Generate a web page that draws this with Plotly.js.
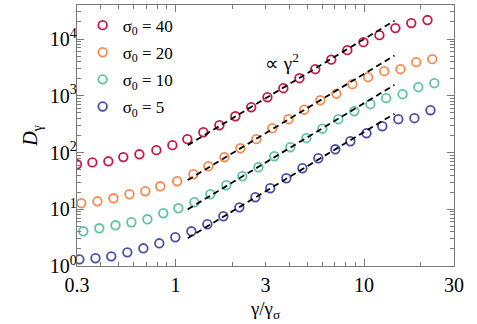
<!DOCTYPE html>
<html>
<head>
<meta charset="utf-8">
<script src="https://cdn.plot.ly/plotly-3.0.1.min.js"></script>
<style>html,body{margin:0;padding:0;background:#fff;}#chart{width:477px;height:324px;}</style>
</head>
<body>
<div id="chart"></div>
<script>
// ---- data ----
const seriesNames = ['σ<sub>0</sub> = 40', 'σ<sub>0</sub> = 20', 'σ<sub>0</sub> = 10', 'σ<sub>0</sub> = 5'];
const seriesColors = ['#c41a48', '#f68a4e', '#5ec5a0', '#4b4fa8'];

const x40 = [0.30,0.362,0.440,0.528,0.643,0.791,0.962,1.155,1.404,1.708,2.077,2.52,3.07,3.73,4.54,5.51,6.70,8.15,9.92,12.06,14.66,17.8,21.7];
const y40 = [62,67,70,83,93,110,135,172,228,303,436,629,944,1361,2042,2944,4330,6370,8810,11700,15600,19100,21600];

const x20 = [0.316,0.385,0.468,0.569,0.691,0.830,1.02,1.243,1.493,1.815,2.207,2.68,3.26,3.97,4.82,5.86,7.13,8.67,10.5,12.8,15.6,18.9,23.0];
const y20 = [12.8,13.8,15.6,18.4,20.8,25.4,31.2,41.4,57.3,82.6,119,172,268,387,569,836,1089,1603,2131,2716,2944,3917,4423];

const x10 = [0.324,0.394,0.480,0.583,0.709,0.861,1.035,1.258,1.529,1.859,2.26,2.75,3.34,4.06,4.94,6.01,7.30,8.88,10.8,13.1,16.0,19.4,23.6];
const y10 = [4.09,4.62,5.22,5.90,6.66,8.50,10.4,13.3,18.4,26.5,38.2,55.0,86.1,124,179,263,387,535,711,908,1067,1418,1667];

const x5 = [0.309,0.376,0.456,0.555,0.675,0.820,0.997,1.213,1.475,1.793,2.18,2.65,3.18,3.87,4.71,5.72,7.04,8.46,10.3,12.5,15.2,18.5,22.5];
const y5 = [1.31,1.37,1.48,1.74,2.05,2.51,3.21,4.09,5.44,7.53,10.8,16.3,23.5,35.2,52.8,79.3,114,158,219,291,387,403,557];

// gamma^2 guide lines: x extent and prefactors
const fitX = [1.16, 14.5];
const fitC = [100, 24.3, 7.4, 2.3];

const xTickVals = [0.3, 1, 3, 10, 30];
const xTickText = ['0.3', '1', '3', '10', '30'];
const yTickVals = [1, 10, 100, 1000, 10000];
const yTickText = ['10<sup>0</sup>', '10<sup>1</sup>', '10<sup>2</sup>', '10<sup>3</sup>', '10<sup>4</sup>'];

const xs = [x40, x20, x10, x5];
const ys = [y40, y20, y10, y5];

const FONT = 'Liberation Serif, Times New Roman, serif';
const AX = '#7a7a7a';

const traces = [];
for (let i = 0; i < 4; i++) {
  traces.push({
    x: xs[i], y: ys[i], type: 'scatter', mode: 'markers', name: seriesNames[i],
    legendgroup: 'g' + i,
    marker: {symbol: 'circle-open', size: 8.6, color: seriesColors[i], line: {width: 1.8, color: seriesColors[i]}},
    hoverinfo: 'skip'
  });
}
for (let i = 0; i < 4; i++) {
  traces.push({
    x: fitX, y: fitX.map(v => fitC[i] * v * v), type: 'scatter', mode: 'lines',
    line: {color: '#000', width: 1.8, dash: '6px,4px'}, showlegend: false, hoverinfo: 'skip'
  });
}
// overlay axes for the long major ticks
traces.push({x: [], y: [], xaxis: 'x2', yaxis: 'y2', type: 'scatter', showlegend: false, hoverinfo: 'skip'});

const xr = [Math.log10(0.3), Math.log10(30)];
const yr = [0, 4.6];

const layout = {
  width: 477, height: 324,
  margin: {l: 77, r: 23, t: 5, b: 58},
  paper_bgcolor: '#fff', plot_bgcolor: '#fff',
  font: {family: FONT, color: '#000', size: 15},
  showlegend: true,
  legend: {x: 0.015, y: 0.99, xanchor: 'left', yanchor: 'top', bgcolor: 'rgba(0,0,0,0)',
           font: {family: FONT, size: 17}, traceorder: 'grouped', tracegroupgap: 2},
  xaxis: {
    type: 'log', range: xr, tickmode: 'array', tickvals: xTickVals, ticktext: xTickText,
    ticks: 'inside', ticklen: 4, tickwidth: 1, tickcolor: AX,
    minor: {ticks: 'inside', dtick: 'D1', ticklen: 4, tickwidth: 1, tickcolor: AX, showgrid: false},
    showline: true, linecolor: AX, linewidth: 1.2, mirror: 'ticks', showgrid: false, zeroline: false,
    tickfont: {family: FONT, size: 20}, ticklabelstandoff: 1,
    title: {text: 'γ/γ<sub>σ</sub>', font: {family: FONT, size: 19}, standoff: 6}
  },
  yaxis: {
    type: 'log', range: yr, tickmode: 'array', tickvals: yTickVals, ticktext: yTickText,
    ticks: 'inside', ticklen: 7, tickwidth: 1, tickcolor: AX,
    minor: {ticks: 'inside', dtick: 'D1', ticklen: 4, tickwidth: 1, tickcolor: AX, showgrid: false},
    showline: true, linecolor: AX, linewidth: 1.2, mirror: 'ticks', showgrid: false, zeroline: false,
    tickfont: {family: FONT, size: 20}, ticklabelstandoff: -5,
    title: {text: '<i>D</i><sub>γ</sub>', font: {family: FONT, size: 20}, standoff: 6}
  },
  xaxis2: {
    type: 'log', range: xr, overlaying: 'x', side: 'bottom', tickmode: 'array', tickvals: [1, 10],
    ticks: 'inside', ticklen: 7, tickwidth: 1, tickcolor: AX, showticklabels: false,
    showline: false, mirror: 'ticks', showgrid: false, zeroline: false
  },
  yaxis2: {
    type: 'log', range: yr, overlaying: 'y', side: 'left', showticklabels: false, ticks: '',
    showline: false, showgrid: false, zeroline: false
  },
  annotations: [{
    xref: 'x', yref: 'y', x: 0.567, y: 3.59, text: '∝ γ<sup>2</sup>', showarrow: false,
    font: {family: FONT, size: 19, color: '#000'}
  }]
};

Plotly.newPlot('chart', traces, layout, {displayModeBar: false, staticPlot: true});
</script>
</body>
</html>
